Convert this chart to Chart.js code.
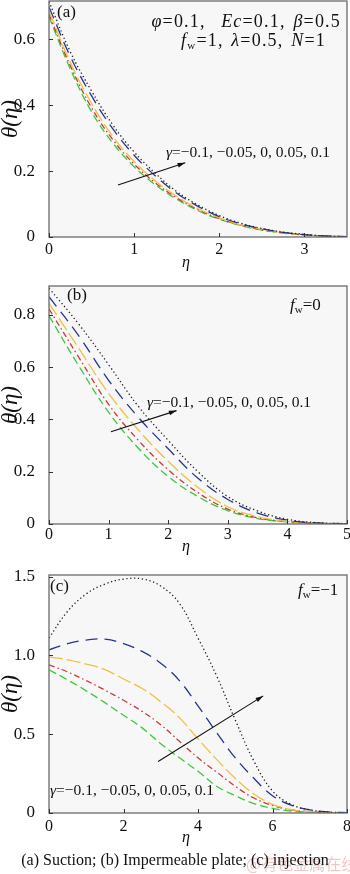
<!DOCTYPE html>
<html>
<head>
<meta charset="utf-8">
<script src="https://cdn.jsdelivr.net/npm/chart.js@4.4.1/dist/chart.umd.min.js"></script>
<style>
  body { margin: 0; background: #fff; }
  #wrap { position: relative; width: 350px; height: 874px; overflow: hidden;
          font-family: 'Liberation Serif', 'Times New Roman', serif; color: #111; }
  canvas { position: absolute; left: 0; }
  .t { position: absolute; font-size: 15.5px; line-height: 16px; white-space: nowrap; }
  .t sub { font-size: 11px; vertical-align: -3px; line-height: 0; font-style: normal; }
  .p { font-size: 18px; line-height: 18px; letter-spacing: 1.2px; word-spacing: 2px; }
  .f { font-size: 17px; }
  .cap { position: absolute; left: 0; width: 350px; top: 851px; text-align: center; font-size: 16px; line-height: 18px; }
  .wm { position: absolute; left: 246px; top: 851px; font-family: 'Noto Sans CJK SC', sans-serif;
        font-size: 16px; color: rgba(225, 110, 110, 0.4); white-space: nowrap; }
</style>
</head>
<body>
<div id="wrap">
  <canvas id="chartA" width="350" height="280" style="top:0"></canvas>
  <canvas id="chartB" width="350" height="280" style="top:280px"></canvas>
  <canvas id="chartC" width="350" height="295" style="top:560px"></canvas>

  <div class="t f" style="left:57px;top:4px">(a)</div>
  <div class="t p" style="right:9px;top:12px"><i>φ</i>=0.1,&nbsp; <i>Ec</i>=0.1, <i>β</i>=0.5</div>
  <div class="t p" style="right:24px;top:31px"><i>f</i><sub>w</sub>=1, <i>λ</i>=0.5, <i>N</i>=1</div>
  <div class="t" style="left:166px;top:144px"><i>γ</i>=−0.1, −0.05, 0, 0.05, 0.1</div>

  <div class="t f" style="left:67px;top:287px">(b)</div>
  <div class="t f" style="left:290px;top:297px"><i>f</i><sub>w</sub>=0</div>
  <div class="t" style="left:147px;top:394px"><i>γ</i>=−0.1, −0.05, 0, 0.05, 0.1</div>

  <div class="t f" style="left:50px;top:578px">(c)</div>
  <div class="t f" style="left:298px;top:582px"><i>f</i><sub>w</sub>=−1</div>
  <div class="t" style="left:50px;top:782px"><i>γ</i>=−0.1, −0.05, 0, 0.05, 0.1</div>

  <div class="wm">@有色金属在线</div>
  <div class="cap">(a) Suction; (b) Impermeable plate; (c) injection</div>
</div>
<script>
// curve order everywhere: γ = -0.1, -0.05, 0, 0.05, 0.1
const gammaValues = [-0.1, -0.05, 0, 0.05, 0.1];

// (a) suction, fw = 1
const etaA = [0, 0.25, 0.5, 0.75, 1, 1.25, 1.5, 1.75, 2, 2.25, 2.5, 2.75, 3, 3.25, 3.5];
const thetaA_m10 = [0.668, 0.51, 0.38, 0.285, 0.213, 0.158, 0.115, 0.08, 0.054, 0.035, 0.021, 0.012, 0.006, 0.003, 0.001];
const thetaA_m05 = [0.676, 0.52, 0.392, 0.295, 0.221, 0.164, 0.119, 0.083, 0.056, 0.036, 0.022, 0.013, 0.007, 0.003, 0.001];
const thetaA_0   = [0.685, 0.53, 0.405, 0.305, 0.229, 0.17, 0.123, 0.086, 0.058, 0.037, 0.023, 0.013, 0.007, 0.003, 0.001];
const thetaA_p05 = [0.698, 0.548, 0.428, 0.328, 0.248, 0.185, 0.133, 0.093, 0.062, 0.04, 0.025, 0.014, 0.007, 0.003, 0.001];
const thetaA_p10 = [0.714, 0.562, 0.443, 0.34, 0.258, 0.193, 0.138, 0.097, 0.065, 0.042, 0.026, 0.015, 0.008, 0.003, 0.001];
const xTicksA = [0, 1, 2, 3];
const yTicksA = [0, 0.2, 0.4, 0.6];
const yLabelsA = ['0', '0.2', '0.4', '0.6'];

// (b) impermeable plate, fw = 0
const etaB = [0, 0.5, 1, 1.5, 2, 2.5, 3, 3.5, 4, 4.5, 5];
const thetaB_m10 = [0.797, 0.605, 0.428, 0.29, 0.182, 0.105, 0.051, 0.021, 0.008, 0.002, 0.001];
const thetaB_m05 = [0.823, 0.638, 0.458, 0.32, 0.208, 0.12, 0.057, 0.024, 0.009, 0.003, 0.001];
const thetaB_0   = [0.845, 0.672, 0.5, 0.36, 0.24, 0.14, 0.066, 0.028, 0.01, 0.003, 0.001];
const thetaB_p05 = [0.87, 0.72, 0.55, 0.408, 0.288, 0.175, 0.094, 0.042, 0.015, 0.004, 0.001];
const thetaB_p10 = [0.903, 0.765, 0.61, 0.45, 0.32, 0.2, 0.105, 0.05, 0.018, 0.005, 0.001];
const xTicksB = [0, 1, 2, 3, 4, 5];
const yTicksB = [0, 0.2, 0.4, 0.6, 0.8];
const yLabelsB = ['0', '0.2', '0.4', '0.6', '0.8'];

// (c) injection, fw = -1
const etaC = [0, 0.5, 1, 1.5, 2, 2.5, 3, 3.5, 4, 4.5, 5, 5.5, 6, 6.5, 7, 7.5, 8];
const thetaC_m10 = [0.908, 0.845, 0.775, 0.7, 0.62, 0.54, 0.44, 0.35, 0.265, 0.17, 0.11, 0.06, 0.03, 0.012, 0.005, 0.002, 0.001];
const thetaC_m05 = [0.94, 0.895, 0.84, 0.78, 0.715, 0.645, 0.56, 0.455, 0.35, 0.26, 0.17, 0.095, 0.048, 0.02, 0.008, 0.003, 0.001];
const thetaC_0   = [0.99, 0.972, 0.945, 0.91, 0.85, 0.79, 0.705, 0.605, 0.47, 0.34, 0.22, 0.12, 0.055, 0.022, 0.008, 0.003, 0.001];
const thetaC_p05 = [1.035, 1.075, 1.097, 1.103, 1.075, 1.025, 0.95, 0.84, 0.68, 0.51, 0.35, 0.22, 0.11, 0.05, 0.02, 0.007, 0.002];
const thetaC_p10 = [1.11, 1.28, 1.39, 1.452, 1.484, 1.485, 1.44, 1.33, 1.11, 0.87, 0.59, 0.33, 0.14, 0.055, 0.02, 0.006, 0.001];
const xTicksC = [0, 2, 4, 6, 8];
const yTicksC = [0, 0.5, 1, 1.5];
const yLabelsC = ['0', '0.5', '1.0', '1.5'];

// arrow annotations [eta0, theta0, eta1, theta1]
const arrowA = [0.81, 0.158, 1.6, 0.225];
const arrowB = [1.04, 0.353, 2.14, 0.434];
const arrowC = [2.93, 0.327, 5.75, 0.743];

const SERIF = "'Liberation Serif', 'Times New Roman', serif";

const Plot = {
    styles: [
        { color: '#3ec83e', dash: [8, 4] },          // -0.1 green dashed
        { color: '#c83a3a', dash: [6, 3, 1.5, 3] },  // -0.05 red dash-dot
        { color: '#f0bf45', dash: [14, 4] },         // 0 orange long dash
        { color: '#26368f', dash: [12, 7] },         // 0.05 blue dash
        { color: '#222222', dash: [1.3, 2.6] }       // 0.1 black dotted
    ],

    deco: {
        id: 'deco',
        beforeDraw(chart) {
            const { ctx, chartArea: a } = chart;
            ctx.save();
            ctx.fillStyle = '#f7f7f7';
            ctx.fillRect(a.left, a.top, a.width, a.height);
            ctx.restore();
        },
        afterDraw(chart, args, opts) {
            const { ctx, chartArea: a, scales: { x, y } } = chart;
            ctx.save();
            ctx.strokeStyle = '#6a6a6a';
            ctx.lineWidth = 1.3;
            ctx.strokeRect(a.left, a.top, a.width, a.height);
            ctx.strokeStyle = '#333';
            ctx.lineWidth = 1;
            ctx.beginPath();
            x.ticks.forEach(t => {
                const px = Math.round(x.getPixelForValue(t.value)) + 0.5;
                ctx.moveTo(px, a.bottom); ctx.lineTo(px, a.bottom - 4);
            });
            y.ticks.forEach(t => {
                const py = Math.round(y.getPixelForValue(t.value)) + 0.5;
                ctx.moveTo(a.left, py); ctx.lineTo(a.left + 4, py);
            });
            ctx.stroke();

            const [e0, t0, e1, t1] = opts.arrow;
            const x0 = x.getPixelForValue(e0), y0 = y.getPixelForValue(t0);
            const x1 = x.getPixelForValue(e1), y1 = y.getPixelForValue(t1);
            const ang = Math.atan2(y1 - y0, x1 - x0);
            ctx.strokeStyle = '#111';
            ctx.fillStyle = '#111';
            ctx.lineWidth = 1.1;
            ctx.beginPath();
            ctx.moveTo(x0, y0); ctx.lineTo(x1, y1);
            ctx.stroke();
            ctx.beginPath();
            ctx.moveTo(x1, y1);
            ctx.lineTo(x1 - 8 * Math.cos(ang - 0.3), y1 - 8 * Math.sin(ang - 0.3));
            ctx.lineTo(x1 - 8 * Math.cos(ang + 0.3), y1 - 8 * Math.sin(ang + 0.3));
            ctx.closePath();
            ctx.fill();
            ctx.restore();
        }
    },

    build(id, eta, curves, cfg) {
        const canvas = document.getElementById(id);
        const H = canvas.height;
        const datasets = curves.map((vals, i) => ({
            label: 'γ=' + gammaValues[i],
            data: eta.map((e, k) => ({ x: e, y: vals[k] })),
            borderColor: this.styles[i].color,
            borderDash: this.styles[i].dash,
            borderWidth: 1.3,
            pointRadius: 0,
            fill: false,
            tension: 0.4
        }));
        // black first, coloured curves on top
        datasets.reverse();
        return new Chart(canvas, {
            type: 'line',
            data: { datasets },
            plugins: [this.deco],
            options: {
                responsive: false,
                animation: false,
                layout: { padding: { top: cfg.top, right: 3, left: 0, bottom: 0 } },
                plugins: {
                    legend: { display: false },
                    tooltip: { enabled: false },
                    deco: { arrow: cfg.arrow }
                },
                scales: {
                    x: {
                        type: 'linear',
                        min: 0,
                        max: cfg.xMax,
                        grid: { display: false },
                        border: { display: false },
                        afterBuildTicks: s => { s.ticks = cfg.xTicks.map(v => ({ value: v })); },
                        afterFit: s => { s.height = H - cfg.bottom; s.paddingLeft = 0; s.paddingRight = 0; },
                        ticks: { color: '#111', padding: cfg.tickPad, font: { family: SERIF, size: 16 } },
                        title: {
                            // trailing spaces nudge the η a little left of centre, as in the original
                            display: true, text: 'η\u2003\u2002', color: '#111',
                            padding: { top: 0, bottom: cfg.titlePad },
                            font: { family: SERIF, size: 16, style: 'italic', lineHeight: 1.1 }
                        }
                    },
                    y: {
                        min: 0,
                        max: cfg.yMax,
                        grid: { display: false },
                        border: { display: false },
                        afterBuildTicks: s => { s.ticks = cfg.yTicks.map(v => ({ value: v })); },
                        afterFit: s => { s.width = 49; s.paddingTop = 0; s.paddingBottom = 0; },
                        ticks: {
                            color: '#111', padding: 6, font: { family: SERIF, size: 17 },
                            callback: (v, i) => cfg.yLabels[i]
                        },
                        title: {
                            display: true, text: 'θ(η)', color: '#111',
                            padding: { top: 0, bottom: 0 },
                            font: { family: SERIF, size: 23, style: 'italic', lineHeight: 0.95 }
                        }
                    }
                }
            }
        });
    }
};

Plot.build('chartA', etaA, [thetaA_m10, thetaA_m05, thetaA_0, thetaA_p05, thetaA_p10], {
    top: 1, bottom: 237, xMax: 3.5, yMax: 0.716, titlePad: 8, tickPad: -5,
    xTicks: xTicksA, yTicks: yTicksA, yLabels: yLabelsA, arrow: arrowA
});
Plot.build('chartB', etaB, [thetaB_m10, thetaB_m05, thetaB_0, thetaB_p05, thetaB_p10], {
    top: 6, bottom: 244, xMax: 5, yMax: 0.911, titlePad: 4, tickPad: -7,
    xTicks: xTicksB, yTicks: yTicksB, yLabels: yLabelsB, arrow: arrowB
});
Plot.build('chartC', etaC, [thetaC_m10, thetaC_m05, thetaC_0, thetaC_p05, thetaC_p10], {
    top: 15, bottom: 253, xMax: 8, yMax: 1.51, titlePad: 8, tickPad: -4,
    xTicks: xTicksC, yTicks: yTicksC, yLabels: yLabelsC, arrow: arrowC
});
</script>
</body>
</html>
